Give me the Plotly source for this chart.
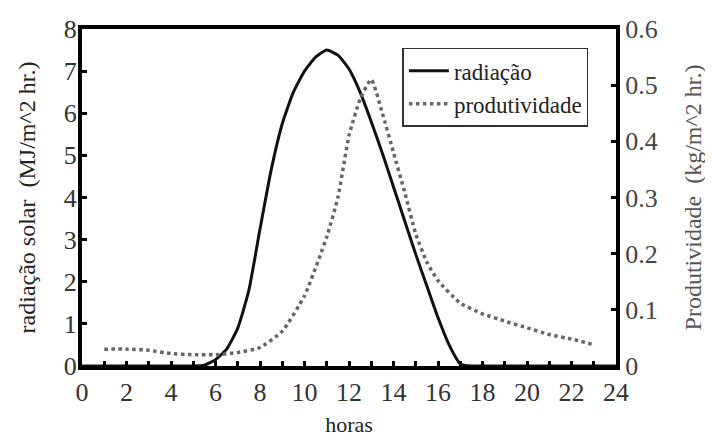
import plotly.graph_objects as go

# Data
horas_rad = [0, 1, 2, 3, 4, 5, 5.5, 6, 6.5, 7, 7.5, 8, 8.5, 9, 9.5, 10, 10.5, 11, 11.5,
             12, 12.5, 13, 13.5, 14, 14.5, 15, 15.5, 16, 16.5, 17, 17.5, 18, 20, 22, 24]
radiacao = [0, 0, 0, 0, 0, 0, 0.02, 0.15, 0.4, 0.9, 1.8, 3.25, 4.65, 5.75, 6.5, 7.0, 7.33, 7.5, 7.38,
            7.05, 6.5, 5.8, 5.05, 4.25, 3.45, 2.65, 1.9, 1.15, 0.5, 0.05, 0, 0, 0, 0, 0]

horas_prod = [1, 2, 3, 4, 5, 6, 7, 8, 9, 10, 11, 11.5, 12, 12.5, 13, 13.5, 14, 14.5, 15,
              15.5, 16, 17, 18, 19, 20, 21, 22, 23]
produtividade = [0.03, 0.03, 0.028, 0.022, 0.02, 0.02, 0.024, 0.033, 0.062, 0.125, 0.23, 0.3,
                 0.41, 0.475, 0.51, 0.45, 0.38, 0.31, 0.235, 0.185, 0.152, 0.112, 0.093, 0.08,
                 0.068, 0.056, 0.048, 0.038]

x_ticks = list(range(0, 25, 2))
serif = "Liberation Serif, Times New Roman, serif"

fig = go.Figure()
fig.add_trace(go.Scatter(x=horas_rad, y=radiacao, name="radiação", mode="lines",
                         line=dict(color="#111111", width=3, shape="spline", smoothing=0.5)))
fig.add_trace(go.Scatter(x=horas_prod, y=produtividade, name="produtividade", mode="lines",
                         yaxis="y2",
                         line=dict(color="#666666", width=3.5, dash="dot", shape="spline", smoothing=0.5)))

fig.update_layout(
    width=713, height=441,
    margin=dict(l=74, r=105, t=21, b=83),
    paper_bgcolor="white", plot_bgcolor="white",
    font=dict(family=serif, color="#222222"),
    showlegend=True,
    legend=dict(x=0.6, y=0.944, xanchor="left", yanchor="top",
                bordercolor="#333333", borderwidth=1.5, bgcolor="white",
                font=dict(family=serif, size=23, color="#222222"),
                tracegroupgap=0, itemwidth=40),
    xaxis=dict(range=[0, 24], tickvals=x_ticks, ticks="inside", ticklen=5, tickwidth=3,
               tickcolor="black", showline=True, linecolor="black", linewidth=4,
               mirror=True, showgrid=False, zeroline=False, automargin=False,
               minor=dict(dtick=1, ticks="inside", ticklen=5, tickwidth=3, tickcolor="black"),
               tickfont=dict(size=26, family=serif, color="#333333"),
               title=dict(text="horas", font=dict(size=22, family=serif, color="#222222"), standoff=11)),
    yaxis=dict(range=[0, 8], dtick=1, ticks="inside", ticklen=5, tickwidth=3, tickcolor="black",
               showline=True, linecolor="black", linewidth=4, showgrid=False, zeroline=False,
               automargin=False, ticklabelstandoff=-4,
               tickfont=dict(size=26, family=serif, color="#333333"),
               title=dict(text="radiação solar  (MJ/m^2 hr.)",
                          font=dict(size=24, family=serif, color="#222222"), standoff=22)),
    yaxis2=dict(range=[0, 0.6], dtick=0.1, overlaying="y", side="right", ticks="inside",
                ticklen=5, tickwidth=3, tickcolor="black", showline=True, linecolor="black",
                linewidth=4, showgrid=False, zeroline=False, automargin=False,
                tickfont=dict(size=26, family=serif, color="#444444"),
                title=dict(text="Produtividade  (kg/m^2 hr.)",
                           font=dict(size=24, family=serif, color="#555555"), standoff=28)),
)

fig.write_html("out.html")
